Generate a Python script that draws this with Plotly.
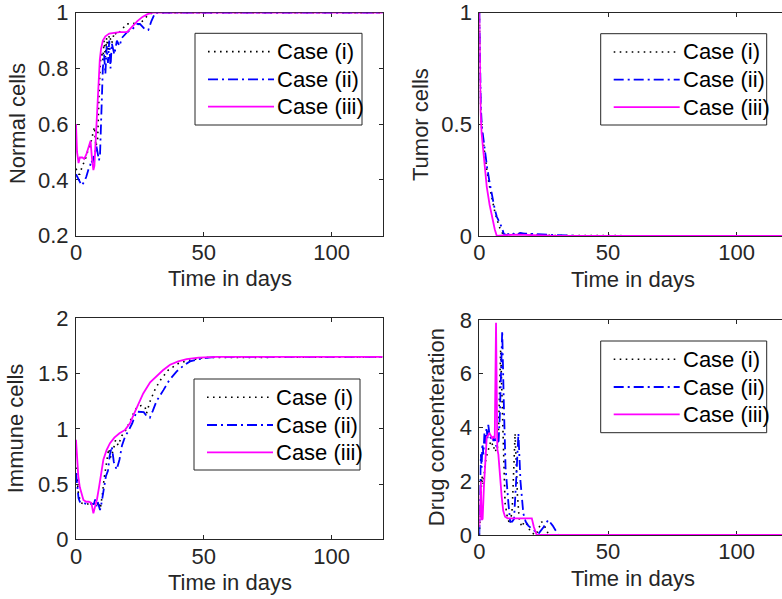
import plotly.graph_objects as go

W, H = 782, 599

# ---------------- data ----------------
case_names = ["Case (i)", "Case (ii)", "Case (iii)"]
x_ticks = [0, 50, 100]

# Normal cells
t_n1 = [0, 1, 1.5, 2.5, 3.5, 4.5, 5.5, 6.5, 7.2, 7.8, 8.5, 9, 9.5, 10, 10.5, 11, 11.5, 12, 12.5, 13, 14, 15, 16, 18, 19.8, 22, 24, 25, 26, 28, 30, 120]
v_n1 = [0.44, 0.42, 0.42, 0.45, 0.47, 0.50, 0.52, 0.56, 0.59, 0.52, 0.55, 0.70, 0.82, 0.86, 0.83, 0.90, 0.84, 0.91, 0.86, 0.92, 0.89, 0.93, 0.92, 0.94, 0.96, 0.96, 0.965, 0.955, 0.97, 0.99, 1.0, 1.0]
t_n2 = [0, 1, 2.2, 3, 4, 4.8, 5.5, 6, 6.5, 7, 7.5, 8, 8.5, 9, 9.4, 10, 10.5, 11, 11.5, 12, 12.5, 13, 13.5, 14, 15, 16, 17, 18, 20, 22, 24, 25, 26, 27, 28.3, 29.5, 31, 33, 120]
v_n2 = [0.42, 0.40, 0.38, 0.39, 0.41, 0.435, 0.45, 0.47, 0.46, 0.49, 0.50, 0.52, 0.50, 0.47, 0.49, 0.65, 0.80, 0.85, 0.78, 0.88, 0.82, 0.90, 0.80, 0.89, 0.85, 0.90, 0.88, 0.91, 0.93, 0.94, 0.96, 0.96, 0.95, 0.94, 0.938, 0.97, 1.0, 1.0, 1.0]
t_n3 = [0, 0.4, 1, 1.5, 2.5, 3.2, 4, 5, 5.7, 6.2, 6.8, 7.2, 7.8, 8.3, 8.8, 9.3, 9.8, 10.5, 11.5, 13, 17, 20, 21, 22, 24, 26, 28, 30, 35, 120]
v_n3 = [0.60, 0.50, 0.46, 0.48, 0.48, 0.475, 0.49, 0.52, 0.54, 0.48, 0.435, 0.45, 0.55, 0.66, 0.76, 0.83, 0.87, 0.90, 0.915, 0.925, 0.93, 0.93, 0.94, 0.95, 0.97, 0.985, 0.995, 1.0, 1.0, 1.0]

# Tumor cells
t_t1 = [0, 0.2, 0.5, 1, 2, 3, 4, 5, 6, 7, 8, 9, 10, 12, 14, 16, 20, 25, 30, 120]
v_t1 = [1.0, 0.75, 0.58, 0.47, 0.37, 0.29, 0.22, 0.16, 0.11, 0.07, 0.035, 0.012, 0.004, 0.01, 0.008, 0.012, 0.008, 0.004, 0.002, 0.0]
t_t2 = [0, 0.15, 0.3, 0.6, 1, 2, 3, 4, 5, 6, 6.8, 7.8, 8.7, 9.5, 10.5, 12, 13, 14, 15, 16, 18, 20, 25, 30, 35, 40, 120]
v_t2 = [1.0, 0.85, 0.68, 0.58, 0.49, 0.39, 0.31, 0.24, 0.17, 0.12, 0.086, 0.06, 0.04, 0.01, 0.004, 0.012, 0.006, 0.016, 0.008, 0.014, 0.01, 0.01, 0.006, 0.004, 0.002, 0.0, 0.0]
t_t3 = [0, 0.2, 0.5, 0.9, 1.5, 2.2, 2.9, 4, 5.2, 6, 6.8, 10, 15, 20, 30, 120]
v_t3 = [1.0, 0.75, 0.56, 0.46, 0.38, 0.30, 0.22, 0.14, 0.07, 0.03, 0.0, 0.004, 0.006, 0.004, 0.0, 0.0]

# Immune cells
t_i1 = [0, 0.5, 1, 2, 3, 5, 7, 8, 9, 9.5, 10.3, 11, 12, 12.8, 13.6, 14.5, 15.5, 16.5, 18, 19.5, 21, 22.5, 24, 25.5, 27, 27.6, 29, 31, 33, 36, 40, 44, 50, 120]
v_i1 = [0.65, 0.50, 0.40, 0.33, 0.32, 0.32, 0.32, 0.30, 0.34, 0.28, 0.40, 0.55, 0.70, 0.82, 0.74, 0.80, 0.90, 0.85, 0.94, 0.99, 1.06, 1.14, 1.20, 1.21, 1.20, 1.14, 1.25, 1.36, 1.44, 1.53, 1.59, 1.62, 1.645, 1.65]
t_i2 = [0, 0.5, 1, 1.5, 2, 3, 4, 5, 6, 7, 7.5, 8, 8.5, 9.4, 10, 10.8, 11.7, 12.5, 13.2, 14, 14.8, 15.9, 17, 18, 19.2, 20.5, 22, 23.7, 25, 26.5, 27.5, 28.9, 30, 31.5, 34.2, 36.5, 39.4, 42, 44.6, 48, 52, 56, 120]
v_i2 = [0.60, 0.45, 0.37, 0.34, 0.33, 0.33, 0.32, 0.32, 0.32, 0.32, 0.36, 0.30, 0.34, 0.265, 0.33, 0.45, 0.57, 0.62, 0.76, 0.84, 0.70, 0.63, 0.72, 0.85, 0.93, 0.98, 1.05, 1.155, 1.15, 1.15, 1.12, 1.10, 1.16, 1.25, 1.35, 1.44, 1.52, 1.57, 1.61, 1.63, 1.645, 1.65, 1.65]
t_i3 = [0, 0.5, 0.9, 1.5, 2.2, 2.9, 4, 5, 6, 6.8, 7.5, 8.2, 9, 10, 10.7, 12, 13.3, 15, 17, 19.2, 21.1, 23, 26.3, 29, 31.6, 34, 36.8, 40, 43.3, 48, 55, 120]
v_i3 = [0.90, 0.68, 0.57, 0.47, 0.40, 0.356, 0.34, 0.34, 0.33, 0.235, 0.30, 0.36, 0.47, 0.62, 0.72, 0.81, 0.87, 0.92, 0.96, 0.99, 1.05, 1.15, 1.32, 1.42, 1.48, 1.53, 1.58, 1.61, 1.63, 1.645, 1.65, 1.65]

# Drug concentration
t_d1 = [0, 0.5, 1, 1.5, 2, 2.5, 3, 3.5, 4, 4.5, 5, 5.5, 6, 6.5, 7, 7.5, 8.3, 9, 9.5, 10, 11, 12, 12.8, 13.9, 14.8, 15.5, 16.5, 17.5, 18.5, 20, 22, 24.2, 25.5, 27, 120]
v_d1 = [0.0, 1.5, 2.2, 1.9, 2.5, 2.8, 3.0, 3.2, 3.4, 3.5, 3.4, 3.2, 3.3, 3.1, 3.2, 4.0, 6.9, 4.5, 2.5, 1.2, 0.6, 0.4, 1.0, 3.78, 1.5, 0.6, 0.3, 0.5, 0.4, 0.1, 0.0, 0.5, 0.3, 0.0, 0.0]
t_d2 = [0, 0.3, 0.6, 0.9, 1.2, 1.6, 2.0, 2.4, 2.8, 3.2, 3.5, 4.0, 4.5, 5.0, 5.5, 6.0, 6.5, 7.0, 7.5, 8.0, 8.9, 9.5, 10.2, 11.3, 12.0, 12.8, 13.5, 14.3, 15.2, 16.0, 17.1, 18.0, 19.0, 21.0, 23.0, 25.0, 26.8, 28.5, 30.7, 120]
v_d2 = [0.0, 1.5, 3.0, 2.5, 3.4, 3.0, 3.8, 3.4, 4.0, 3.6, 4.1, 3.7, 3.6, 3.7, 3.5, 3.6, 3.3, 3.4, 3.5, 4.5, 7.6, 5.0, 2.5, 1.19, 0.5, 0.5, 0.6, 2.0, 3.78, 2.0, 0.8, 0.5, 0.35, 0.19, 0.05, 0.3, 0.56, 0.35, 0.0, 0.0]
t_d3 = [0, 0.3, 0.6, 0.9, 1.3, 1.8, 2.4, 2.9, 3.4, 3.9, 4.5, 5.0, 5.4, 5.8, 6.0, 6.5, 7.0, 7.4, 8.0, 8.7, 9.3, 10, 11, 13, 16, 19, 20.4, 21.2, 22.3, 30, 120]
v_d3 = [0.3, 1.5, 2.0, 0.56, 0.6, 1.8, 3.0, 3.65, 3.7, 3.8, 3.7, 3.6, 3.65, 3.6, 3.6, 7.9, 3.2, 3.0, 2.2, 1.42, 0.9, 0.68, 0.62, 0.62, 0.62, 0.62, 0.62, 0.3, 0.0, 0.0, 0.0]

# ---------------- styling ----------------
FONT = "Liberation Sans, Arial, Helvetica, sans-serif"
FS = 22
AX = "#262626"
styles = [
    dict(color="#000000", width=1.6, dash="1.6px,4.4px"),
    dict(color="#0000FF", width=1.8, dash="10px,4px,2px,4px"),
    dict(color="#FF00FF", width=1.8, dash="solid"),
]

def px(x):
    return x / W

def py(y):
    return 1 - y / H

# panel frames in pixels: (left, right, top, bottom)
panels = [
    dict(box=(76, 382.7, 12.7, 235.5), xr=[0, 120], yr=[0.2, 1], yt=[0.2, 0.4, 0.6, 0.8, 1],
         ytxt=["0.2", "0.4", "0.6", "0.8", "1"], ytitle="Normal cells", ytx=17,
         data=[(t_n1, v_n1), (t_n2, v_n2), (t_n3, v_n3)], leg=(195, 362, 33.3, 125), clip=False),
    dict(box=(479.3, 782, 12.7, 236), xr=[0, (782 - 479.3) / 2.574], yr=[0, 1], yt=[0, 0.5, 1],
         ytxt=["0", "0.5", "1"], ytitle="Tumor cells", ytx=420.7,
         data=[(t_t1, v_t1), (t_t2, v_t2), (t_t3, v_t3)], leg=(600.7, 766.7, 33.7, 125), clip=True),
    dict(box=(76, 382.7, 318.3, 539.3), xr=[0, 120], yr=[0, 2], yt=[0, 0.5, 1, 1.5, 2],
         ytxt=["0", "0.5", "1", "1.5", "2"], ytitle="Immune cells", ytx=15.5,
         data=[(t_i1, v_i1), (t_i2, v_i2), (t_i3, v_i3)], leg=(194, 360, 379, 470), clip=False),
    dict(box=(479.3, 782, 320, 535), xr=[0, (782 - 479.3) / 2.574], yr=[0, 8], yt=[0, 2, 4, 6, 8],
         ytxt=["0", "2", "4", "6", "8"], ytitle="Drug concenteration", ytx=436.7,
         data=[(t_d1, v_d1), (t_d2, v_d2), (t_d3, v_d3)], leg=(600.7, 766.7, 341, 432.7), clip=True),
]

fig = go.Figure()
layout = dict(
    width=W, height=H, margin=dict(l=0, r=0, t=0, b=0, autoexpand=False),
    paper_bgcolor="white", plot_bgcolor="white", showlegend=False,
    font=dict(family=FONT, size=FS, color=AX),
)
annotations = []
shapes = []

for k, p in enumerate(panels):
    n = "" if k == 0 else str(k + 1)
    xa, ya = "x" + n, "y" + n
    l, r, t, b = p["box"]
    for (tt, vv), st, name in zip(p["data"], styles, case_names):
        fig.add_trace(go.Scatter(
            x=tt, y=vv, mode="lines", name=name, xaxis=xa, yaxis=ya,
            line=dict(color=st["color"], width=st["width"], dash=st["dash"]),
        ))
    common = dict(showgrid=False, zeroline=False, showline=True, linecolor=AX, linewidth=1,
                  ticks="inside", ticklen=4, tickwidth=1, tickcolor=AX, automargin=False,
                  tickfont=dict(family=FONT, size=FS, color=AX), layer="below traces")
    layout["xaxis" + n] = dict(common, domain=[px(l), min(px(r), 1.0)], range=p["xr"],
                               tickvals=x_ticks, ticktext=[str(v) for v in x_ticks],
                               mirror="ticks", anchor=ya, ticklabelstandoff=-3)
    layout["yaxis" + n] = dict(common, domain=[py(b), py(t)], range=p["yr"],
                               tickvals=p["yt"], ticktext=p["ytxt"],
                               mirror=(False if p["clip"] else "ticks"), anchor=xa,
                               ticklabelstandoff=2)
    # axis titles
    xmid = (l + l + 2.56 * 120) / 2
    annotations.append(dict(text="Time in days", x=px(xmid), y=py(b + 43), xref="paper", yref="paper",
                            showarrow=False, xanchor="center", yanchor="middle",
                            font=dict(family=FONT, size=FS, color=AX)))
    annotations.append(dict(text=p["ytitle"], x=px(p["ytx"]), y=py((t + b) / 2), xref="paper", yref="paper",
                            showarrow=False, textangle=-90, xanchor="center", yanchor="middle",
                            font=dict(family=FONT, size=FS, color=AX)))
    # legend box
    L0, L1, T0, T1 = p["leg"]
    shapes.append(dict(type="rect", xref="paper", yref="paper", x0=px(L0), x1=px(L1), y0=py(T1), y1=py(T0),
                       line=dict(color=AX, width=1), fillcolor="white", layer="above"))
    rows = [T0 + 18.3, T0 + 46, T0 + 73.4]
    for yy, st, name in zip(rows, styles, case_names):
        shapes.append(dict(type="line", xref="paper", yref="paper", x0=px(L0 + 13), x1=px(L0 + 79),
                           y0=py(yy), y1=py(yy), layer="above",
                           line=dict(color=st["color"], width=st["width"], dash=st["dash"])))
        annotations.append(dict(text=name, x=px(L0 + 80), y=py(yy), xref="paper", yref="paper",
                                showarrow=False, xanchor="left", yanchor="middle",
                                font=dict(family=FONT, size=FS, color="#000000")))

layout["annotations"] = annotations
layout["shapes"] = shapes
fig.update_layout(**layout)
fig.write_html("out.html")
